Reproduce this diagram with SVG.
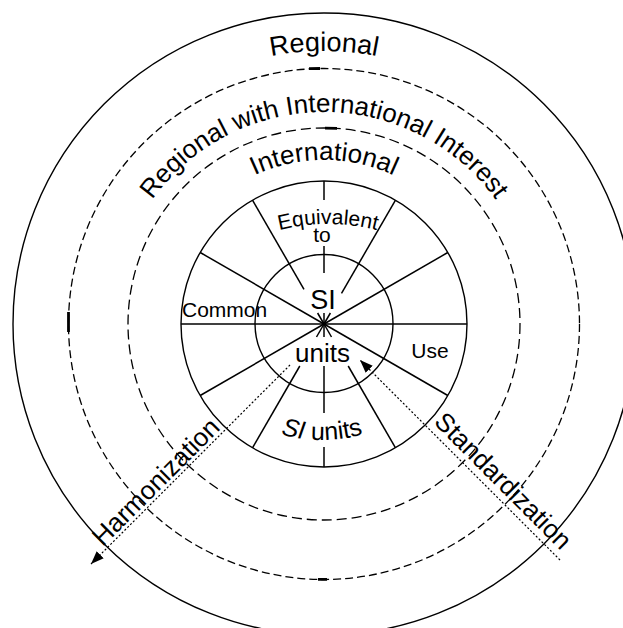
<svg xmlns="http://www.w3.org/2000/svg" width="623" height="628" viewBox="0 0 623 628">
<style>
  .solid { fill: none; stroke: #000; stroke-width: 1.4; }
  .dashA { fill: none; stroke: #000; stroke-width: 1.3; stroke-dasharray: 8 4; }
  .dashB { fill: none; stroke: #000; stroke-width: 1.3; stroke-dasharray: 10 5; }
  .thick { fill: none; stroke: #000; stroke-width: 2.8; }
  .spoke { stroke: #000; stroke-width: 1.5; fill: none; }
  .dot { stroke: #000; stroke-width: 1.2; stroke-dasharray: 2 2; fill: none; }
  text { font-family: "Liberation Sans", Arial, sans-serif; fill: #000; }
</style>
<defs>
  <marker id="arrow" markerUnits="userSpaceOnUse" markerWidth="14" markerHeight="12" refX="13" refY="5" orient="auto">
    <path d="M0,0 L13,5 L0,10 Z" fill="#000"/>
  </marker>
  <path id="pRegional" d="M148.5,114.9 A273,273 0 0 1 499.5,114.9"/>
  <path id="pRWII" d="M124.8,251.5 A212,212 0 0 1 523.2,251.5"/>
  <path id="pIntl" d="M208,208 A164,164 0 0 1 440,208"/>
  <path id="pEquiv" d="M228,250.8 A200,200 0 0 1 428,250.8"/>
  <path id="pSIunits" d="M247,419.9 A150,150 0 0 0 397,419.9"/>
</defs>

<g id="ring-regional">
  <circle class="solid" cx="324" cy="324" r="311"/>
  <text font-size="27" text-anchor="middle"><textPath href="#pRegional" startOffset="50%">Regional</textPath></text>
</g>

<g id="ring-regional-international">
  <circle class="dashA" cx="324" cy="324" r="255.5"/>
  <path class="thick" d="M309,68.6 L320,68.5"/>
  <path class="thick" d="M68.5,312 L68.5,332"/>
  <path class="thick" d="M318,579.3 L327,579.4"/>
  <text font-size="26" text-anchor="middle"><textPath href="#pRWII" startOffset="50%">Regional with International Interest</textPath></text>
</g>

<g id="ring-international">
  <circle class="dashB" cx="324" cy="324" r="196"/>
  <path class="thick" d="M325,128.1 L337,128.3"/>
  <text font-size="26" text-anchor="middle"><textPath href="#pIntl" startOffset="50%">International</textPath></text>
</g>

<g id="wheel">
  <circle class="solid" cx="324" cy="324" r="143"/>
  <circle class="solid" cx="324" cy="323.5" r="69"/>
  <g id="spokes">
    <line class="spoke" x1="181" y1="324" x2="467" y2="324"/>
    <line class="spoke" x1="324" y1="324" x2="447.8" y2="395.5"/>
    <line class="spoke" x1="324" y1="324" x2="200.2" y2="395.5"/>
    <line class="spoke" x1="324" y1="324" x2="200.2" y2="252.5"/>
    <line class="spoke" x1="324" y1="324" x2="447.8" y2="252.5"/>
    <line class="spoke" x1="348.2" y1="366" x2="395.5" y2="447.8"/>
    <line class="spoke" x1="324" y1="324" x2="331.5" y2="337"/>
    <line class="spoke" x1="299.8" y1="366" x2="252.5" y2="447.8"/>
    <line class="spoke" x1="324" y1="324" x2="316.5" y2="337"/>
    <line class="spoke" x1="324" y1="324" x2="324" y2="337"/>
    <line class="spoke" x1="324" y1="366" x2="324" y2="413"/>
    <line class="spoke" x1="324" y1="447" x2="324" y2="467"/>
    <line class="spoke" x1="252.5" y1="200.2" x2="304" y2="289.4"/>
    <line class="spoke" x1="324" y1="324" x2="317.6" y2="313"/>
    <line class="spoke" x1="395.5" y1="200.2" x2="341.5" y2="293.3"/>
    <line class="spoke" x1="324" y1="324" x2="330.4" y2="313"/>
    <line class="spoke" x1="324" y1="181" x2="324" y2="200"/>
    <line class="spoke" x1="324" y1="246" x2="324" y2="273"/>
    <line class="spoke" x1="324" y1="313" x2="324" y2="324"/>
  </g>
</g>

<g id="label-equivalent">
  <text font-size="21" text-anchor="middle"><textPath href="#pEquiv" startOffset="50%">Equivalent</textPath></text>
  <text font-size="21" x="322" y="241.5" text-anchor="middle">to</text>
</g>
<g id="label-common"><text font-size="21" x="182" y="316.5">Common</text></g>
<g id="label-use"><text font-size="21" x="430" y="358.3" text-anchor="middle">Use</text></g>
<g id="label-SI"><text font-size="27" x="323" y="309.3" text-anchor="middle">SI</text></g>
<g id="label-units"><text font-size="26" x="322.5" y="361.5" text-anchor="middle">units</text></g>
<g id="label-si-units">
  <text font-size="25" text-anchor="middle"><textPath href="#pSIunits" startOffset="50%"><tspan font-style="italic">SI</tspan> units</textPath></text>
</g>

<g id="connectors">
  <line class="dot" x1="290" y1="365" x2="91" y2="564" marker-end="url(#arrow)"/>
  <line class="dot" x1="560" y1="560" x2="360" y2="360" marker-end="url(#arrow)"/>
</g>

<g id="label-harmonization">
  <text font-size="26" text-anchor="middle" transform="translate(162,488) rotate(-45)">Harmonization</text>
</g>
<g id="label-standardization">
  <text font-size="26" text-anchor="middle" transform="translate(497,487) rotate(45)">Standardization</text>
</g>
</svg>
